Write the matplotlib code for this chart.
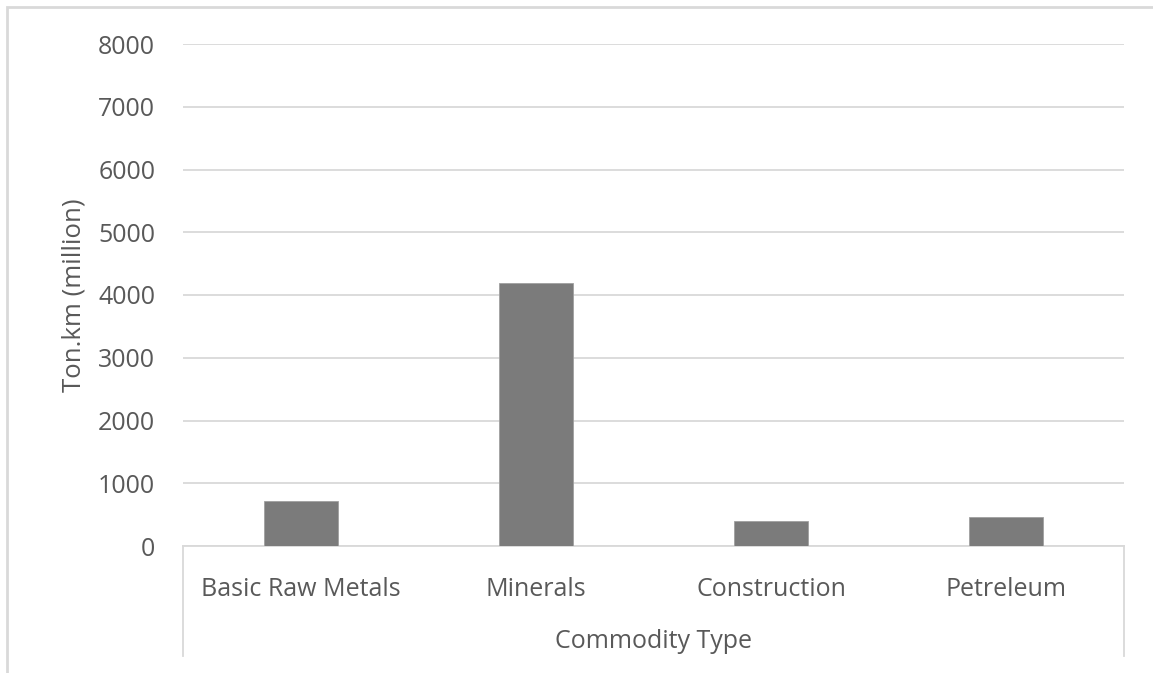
import matplotlib.pyplot as plt
from matplotlib.patches import Rectangle
import numpy as np

categories = ['Basic Raw Metals', 'Minerals', 'Construction', 'Petreleum']
ton_km = [725, 4190, 400, 455]
y_ticks = [0, 1000, 2000, 3000, 4000, 5000, 6000, 7000, 8000]

text_col = '#595959'
grid_col = '#d9d9d9'
bar_col = '#7b7b7b'

plt.rcParams['font.family'] = ['Open Sans', 'DejaVu Sans']

fig = plt.figure(figsize=(11.53, 6.73), dpi=100)
ax = fig.add_axes([183/1153, 1 - 546/673, (1124 - 183)/1153, (546 - 44)/673])

x = np.arange(len(categories))
ax.bar(x, ton_km, width=0.315, color=bar_col, edgecolor='#a0a0a0', linewidth=0.6, zorder=3)

ax.set_xlim(-0.5, len(categories) - 0.5)
ax.set_ylim(0, 8000)
ax.set_yticks(y_ticks)
ax.set_yticklabels([str(v) for v in y_ticks], fontsize=18, color=text_col)
ax.tick_params(axis='y', length=0, pad=20)
ax.yaxis.grid(True, color=grid_col, linewidth=1.3, zorder=0)
ax.set_axisbelow(True)

ax.set_xticks(x)
ax.set_xticklabels(categories, fontsize=18, color=text_col)
ax.tick_params(axis='x', length=0, pad=22)

for s in ['top', 'right', 'left']:
    ax.spines[s].set_visible(False)
ax.spines['bottom'].set_color(grid_col)
ax.spines['bottom'].set_linewidth(1.3)

# side lines of the category box below the axis
trans = ax.get_xaxis_transform()
for xe in [-0.5, len(categories) - 0.5]:
    ax.plot([xe, xe], [0, -0.219], transform=trans, color=grid_col, lw=1.3, clip_on=False)

ax.text(0.5, -0.19, 'Commodity Type', transform=ax.transAxes, ha='center', va='center',
        fontsize=18, color=text_col)
ax.set_ylabel('Ton.km (million)', fontsize=18.5, color=text_col, labelpad=8)

# outer chart border
fig.patches.append(Rectangle((7/1153, -0.1), 1.1, 1 - 7/673 + 0.1, transform=fig.transFigure,
                             fill=False, edgecolor=grid_col, lw=2))

fig.savefig('out.png', dpi=100)
